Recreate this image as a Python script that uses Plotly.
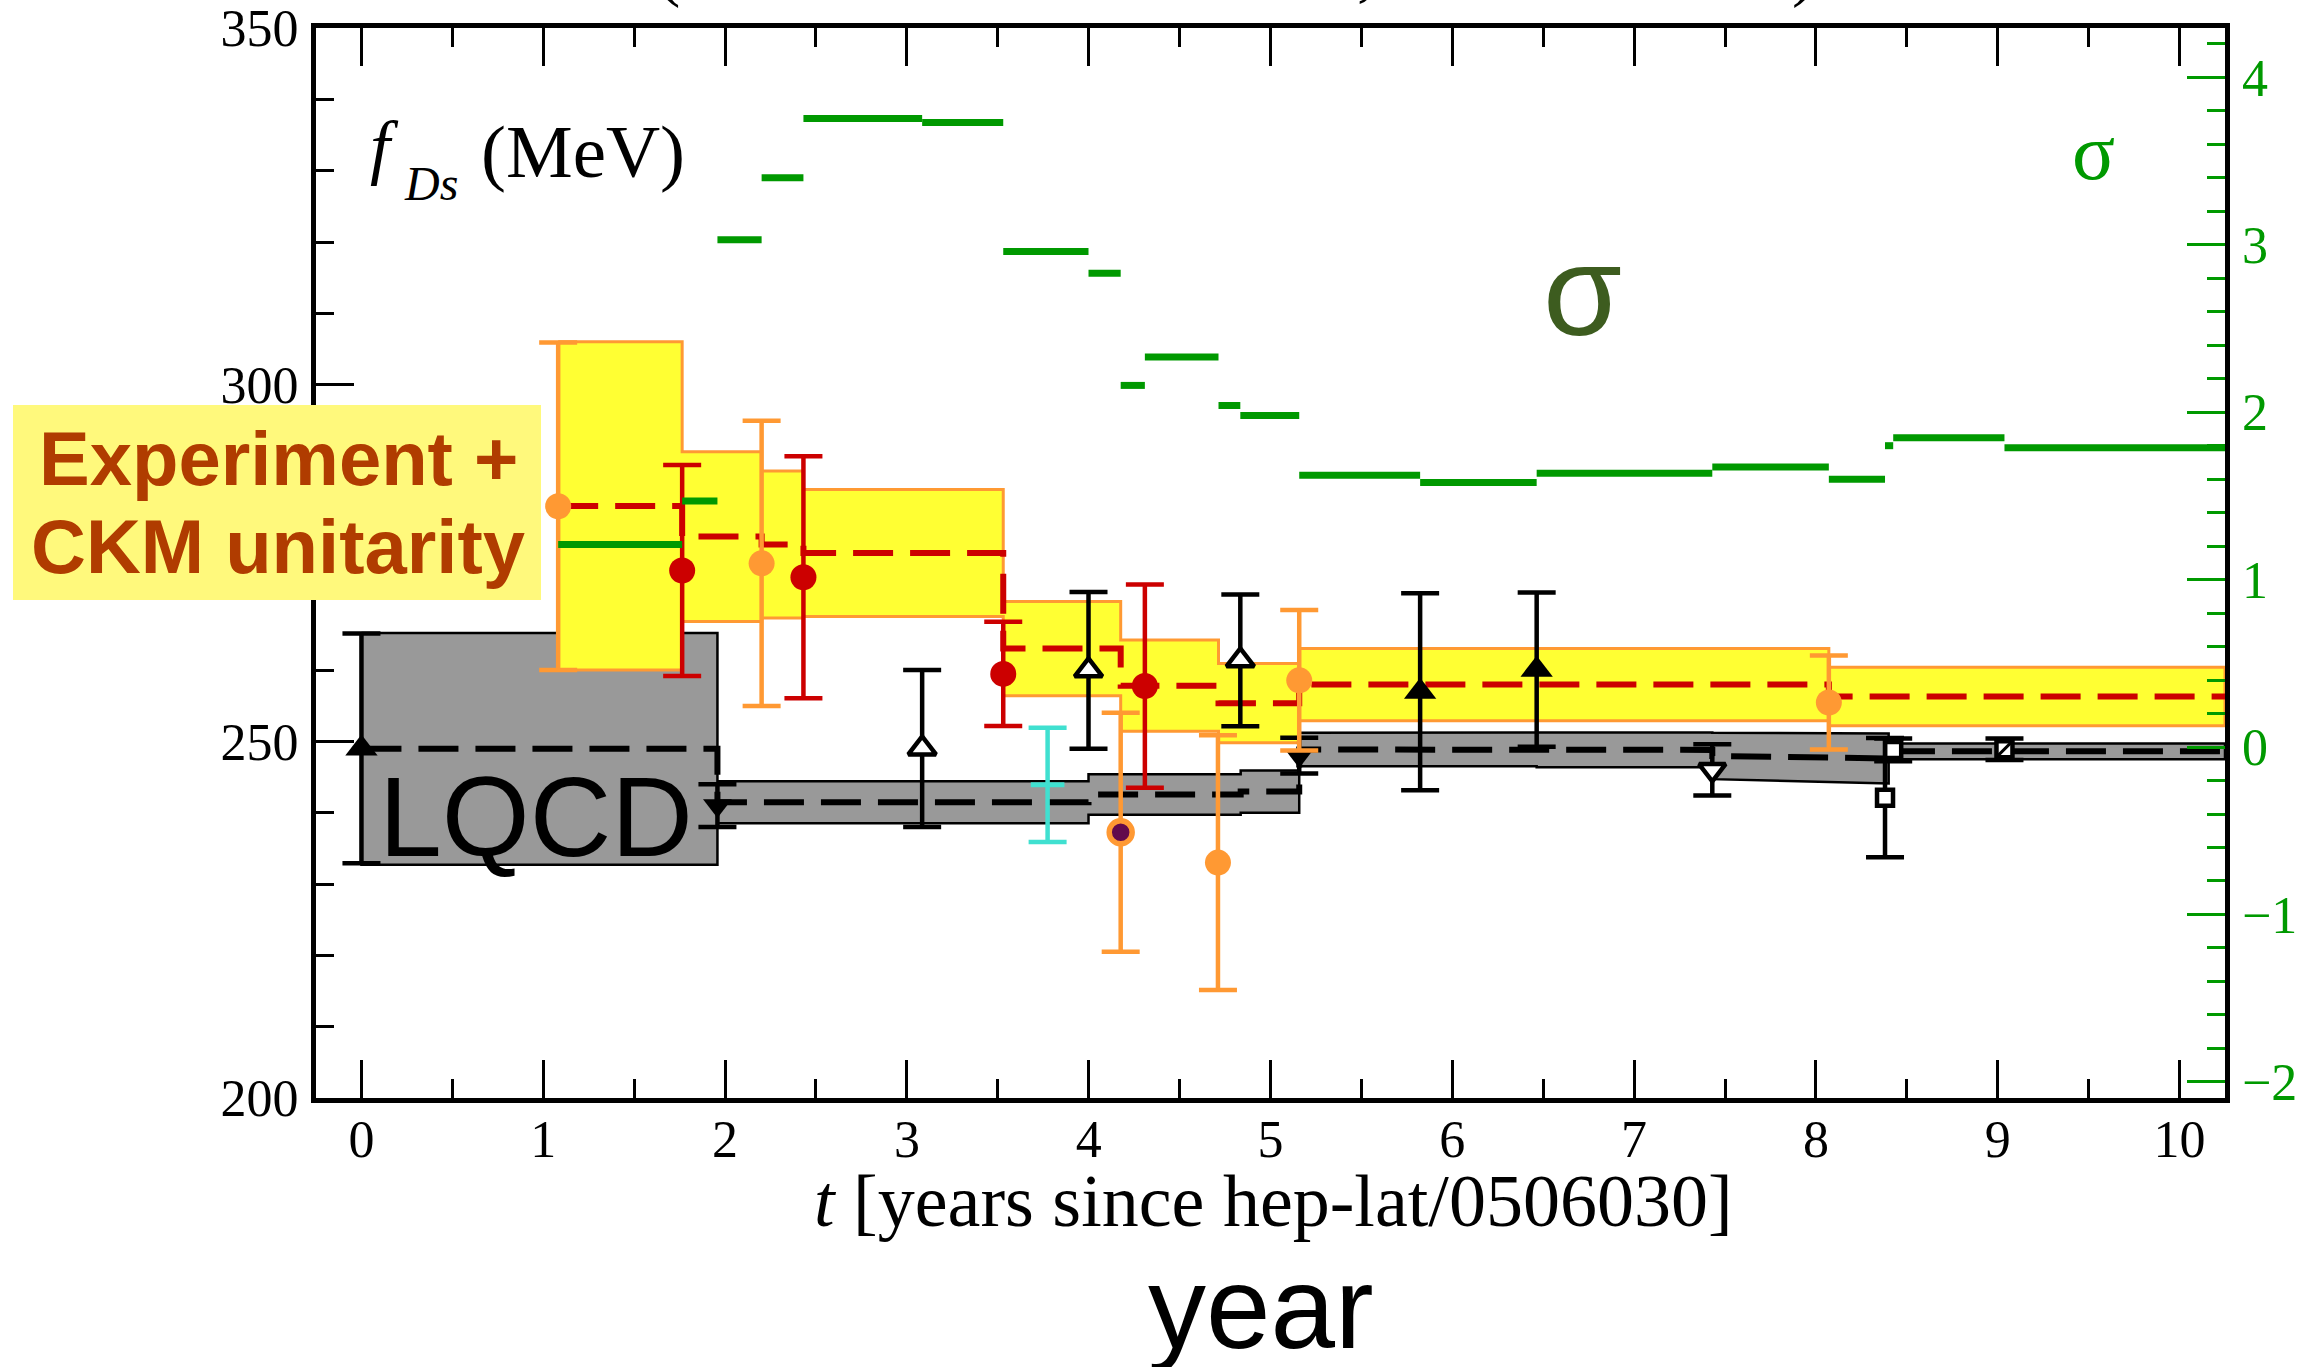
import plotly.graph_objects as go

# ------------------------------------------------------------------ data
# Experiment + CKM unitarity running average (one step per update)
exp_t_start = [1.082, 1.764, 2.201, 2.431, 3.530, 4.176, 4.714, 5.158, 8.071]
exp_t_end = [1.764, 2.201, 2.431, 3.530, 4.176, 4.714, 5.158, 8.071, 10.25]
exp_mean = [283.0, 278.7, 277.6, 276.4, 263.0, 257.8, 255.35, 257.95, 256.3]
exp_err = [23.0, 11.9, 10.3, 8.9, 6.6, 6.4, 5.55, 5.05, 4.1]

# Lattice QCD running average; a knot is repeated where the average jumps
lqcd_t = [0.0, 1.958, 1.958, 3.999, 3.999, 4.836, 4.836, 5.158,
          5.158, 6.464, 6.464, 7.43, 7.43, 8.40, 8.40, 10.25]
lqcd_mean = [248.95, 248.95, 241.45, 241.45, 242.55, 242.55, 242.95, 242.95,
             248.85, 248.85, 248.8, 248.8, 247.95, 247.6, 248.6, 248.6]
lqcd_err = [16.25, 16.25, 2.95, 2.95, 2.85, 2.85, 2.95, 2.95,
            2.35, 2.35, 2.45, 2.45, 3.25, 3.5, 1.1, 1.1]

# Tension between the two averages (standard deviations, right axis)
sig_t_start = [1.082, 1.764, 1.958, 2.201, 2.431, 3.084, 3.530, 3.999, 4.176, 4.309,
               4.714, 4.834, 5.158, 5.823, 6.464, 7.43, 8.071, 8.38, 8.425, 9.037]
sig_t_end = [1.764, 1.958, 2.201, 2.431, 3.084, 3.530, 3.999, 4.176, 4.309, 4.714,
             4.834, 5.158, 5.823, 6.464, 7.43, 8.071, 8.38, 8.425, 9.037, 10.25]
sig_value = [1.21, 1.47, 3.03, 3.40, 3.755, 3.73, 2.96, 2.83, 2.16, 2.33,
             2.04, 1.98, 1.624, 1.58, 1.635, 1.672, 1.60, 1.80, 1.848, 1.787]

# Lattice results
lat_up_t = [0.0, 5.823, 6.464]
lat_up_val = [249.0, 256.95, 260.05]
lat_up_err = [16.1, 13.8, 10.8]

lat_upopen_t = [3.084, 3.999, 4.834]
lat_upopen_val = [249.0, 259.95, 261.35]
lat_upopen_err = [11.0, 11.0, 9.25]

lat_down_t = [1.958, 5.158]
lat_down_val = [241.0, 248.0]
lat_down_err = [3.0, 2.5]

lat_downopen_t = [7.43]
lat_downopen_val = [246.0]
lat_downopen_err = [3.6]

lat_sq_t = [8.38, 8.425, 9.037]
lat_sq_val = [242.1, 248.8, 248.9]
lat_sq_err = [8.35, 1.6, 1.5]

# Experimental results
exp_red_t = [1.764, 2.431, 3.530, 4.309]
exp_red_val = [273.95, 273.0, 259.45, 257.75]
exp_red_err = [14.8, 16.95, 7.3, 14.25]

exp_orange_t = [1.082, 2.201, 4.711, 5.158, 8.071]
exp_orange_val = [282.95, 274.95, 233.0, 258.55, 255.45]
exp_orange_err = [22.95, 20.0, 17.85, 9.85, 6.6]

exp_purple_t = [4.176]
exp_purple_val = [237.25]
exp_purple_err = [16.75]

exp_cyan_t = [3.774]
exp_cyan_val = [243.9]
exp_cyan_err = [8.0]

# ------------------------------------------------------------------ styling
W, H = 2313, 1367
ML, MR, MT, MB = 316, 88, 28, 269
PW, PH = W - ML - MR, H - MT - MB

ORANGE = "#ff9933"
RED = "#cc0000"
GREEN = "#009900"
YELLOW = "#ffff33"
GRAY = "#999999"
SERIF = "Liberation Serif"
SANS = "Liberation Sans"

SIG_MEV0, SIG_MEV_PER = 249.2, 23.47   # sigma axis alignment with the MeV axis
Y_LO, Y_HI = 200.0, 350.0


def fx(px):
    return (px - ML) / PW


def fy(py):
    return (MT + PH - py) / PH


fig = go.Figure()

# Lattice band
lq_x = list(lqcd_t) + list(reversed(lqcd_t)) + [lqcd_t[0]]
lq_y = [m + e for m, e in zip(lqcd_mean, lqcd_err)] + \
       [m - e for m, e in zip(reversed(lqcd_mean), reversed(lqcd_err))] + \
       [lqcd_mean[0] + lqcd_err[0]]
fig.add_trace(go.Scatter(x=lq_x, y=lq_y, mode="lines", fill="toself",
                         fillcolor=GRAY, line=dict(color="black", width=2.5),
                         hoverinfo="skip"))

# Experiment band
ex_x, ex_hi, ex_lo = [], [], []
for a, b, m, e in zip(exp_t_start, exp_t_end, exp_mean, exp_err):
    ex_x += [a, b]
    ex_hi += [m + e, m + e]
    ex_lo += [m - e, m - e]
band_x = ex_x + ex_x[::-1] + [ex_x[0]]
band_y = ex_hi + ex_lo[::-1] + [ex_hi[0]]
fig.add_trace(go.Scatter(x=band_x, y=band_y, mode="lines", fill="toself",
                         fillcolor=YELLOW, line=dict(color=ORANGE, width=3),
                         hoverinfo="skip"))

# Central values of the averages
fig.add_trace(go.Scatter(x=lqcd_t, y=lqcd_mean, mode="lines",
                         line=dict(color="black", width=6, dash="40px,17px")))
ex_mid = []
for m in exp_mean:
    ex_mid += [m, m]
fig.add_trace(go.Scatter(x=ex_x, y=ex_mid, mode="lines",
                         line=dict(color=RED, width=6, dash="40px,17px")))


def err(vals, color):
    return dict(type="data", array=vals, visible=True, color=color,
                thickness=4.5, width=19)


# Lattice points
fig.add_trace(go.Scatter(x=lat_up_t, y=lat_up_val, mode="markers",
                         error_y=err(lat_up_err, "black"),
                         marker=dict(symbol="triangle-up", size=28, color="black")))
fig.add_trace(go.Scatter(x=lat_upopen_t, y=lat_upopen_val, mode="markers",
                         error_y=err(lat_upopen_err, "black"),
                         marker=dict(symbol="triangle-up", size=24, color="white",
                                     line=dict(color="black", width=4.5))))
fig.add_trace(go.Scatter(x=lat_down_t, y=lat_down_val, mode="markers",
                         error_y=err(lat_down_err, "black"),
                         marker=dict(symbol="triangle-down", size=25, color="black")))
fig.add_trace(go.Scatter(x=lat_downopen_t, y=lat_downopen_val, mode="markers",
                         error_y=err(lat_downopen_err, "black"),
                         marker=dict(symbol="triangle-down", size=23, color="white",
                                     line=dict(color="black", width=4.5))))
fig.add_trace(go.Scatter(x=lat_sq_t, y=lat_sq_val, mode="markers",
                         error_y=err(lat_sq_err, "black"),
                         marker=dict(symbol="square", size=16, color="white",
                                     line=dict(color="black", width=4.5))))
fig.add_trace(go.Scatter(x=lat_sq_t[2:], y=lat_sq_val[2:], mode="markers",
                         marker=dict(symbol="line-ne", size=14,
                                     line=dict(color="black", width=3))))

# Experimental points
fig.add_trace(go.Scatter(x=exp_cyan_t, y=exp_cyan_val, mode="markers",
                         error_y=err(exp_cyan_err, "#40e0d0"),
                         marker=dict(symbol="line-ew", size=24,
                                     line=dict(color="#40e0d0", width=5))))
fig.add_trace(go.Scatter(x=exp_red_t, y=exp_red_val, mode="markers",
                         error_y=err(exp_red_err, RED),
                         marker=dict(symbol="circle", size=26, color=RED)))
fig.add_trace(go.Scatter(x=exp_orange_t, y=exp_orange_val, mode="markers",
                         error_y=err(exp_orange_err, ORANGE),
                         marker=dict(symbol="circle", size=26, color=ORANGE)))
fig.add_trace(go.Scatter(x=exp_purple_t, y=exp_purple_val, mode="markers",
                         error_y=err(exp_purple_err, ORANGE),
                         marker=dict(symbol="circle", size=23, color="#620a4c",
                                     line=dict(color=ORANGE, width=5.5))))

# Tension steps on the right axis
gx, gy = [], []
for a, b, v in zip(sig_t_start, sig_t_end, sig_value):
    gx += [a, b, None]
    gy += [v, v, None]
fig.add_trace(go.Scatter(x=gx, y=gy, yaxis="y2", mode="lines",
                         line=dict(color=GREEN, width=7)))

tickfont = dict(family=SERIF, size=52, color="black")
fig.update_layout(
    width=W, height=H,
    margin=dict(l=ML, r=MR, t=MT, b=MB, pad=0),
    paper_bgcolor="white", plot_bgcolor="white",
    showlegend=False,
    xaxis=dict(range=[-0.25, 10.25], tickvals=list(range(11)),
               ticks="inside", ticklen=38, tickwidth=2.5, tickcolor="black",
               minor=dict(tick0=0, dtick=0.5, ticks="inside", ticklen=19,
                          tickwidth=2.5, tickcolor="black", showgrid=False),
               showline=True, linewidth=5, linecolor="black", mirror="ticks",
               showgrid=False, zeroline=False, tickfont=tickfont,
               ticklabelstandoff=-8, automargin=False),
    yaxis=dict(range=[Y_LO, Y_HI], tickvals=[200, 250, 300, 350],
               ticks="inside", ticklen=38, tickwidth=2.5, tickcolor="black",
               minor=dict(tick0=200, dtick=10, ticks="inside", ticklen=18,
                          tickwidth=2.5, tickcolor="black", showgrid=False),
               showline=True, linewidth=5, linecolor="black", mirror=True,
               showgrid=False, zeroline=False, tickfont=tickfont,
               ticklabelstandoff=2, automargin=False),
    yaxis2=dict(overlaying="y", side="right",
                range=[(Y_LO - SIG_MEV0) / SIG_MEV_PER, (Y_HI - SIG_MEV0) / SIG_MEV_PER],
                tickvals=[-2, -1, 0, 1, 2, 3, 4],
                ticks="inside", ticklen=38, tickwidth=2.5, tickcolor=GREEN,
                minor=dict(tick0=0, dtick=0.2, ticks="inside", ticklen=18,
                           tickwidth=2.5, tickcolor=GREEN, showgrid=False),
                showline=False, showgrid=False, zeroline=False,
                tickfont=dict(family=SERIF, size=52, color=GREEN),
                ticklabelstandoff=16, automargin=False),
)

# Label box on the left
fig.add_shape(type="rect", xref="paper", yref="paper",
              x0=fx(13), x1=fx(541), y0=fy(600), y1=fy(405),
              fillcolor="#fff97c", line=dict(width=0), layer="above")

BROWN = "#b03c00"


def mid(baseline, size, serif=True):
    """Vertical centre of a text line whose baseline sits at pixel row `baseline`."""
    return fy(baseline - (0.3375 if serif else 0.3465) * size)


annotations = [
    dict(text="<b>Experiment +</b>", x=fx(278), y=mid(485, 76, False),
         font=dict(family=SANS, size=76, color=BROWN)),
    dict(text="<b>CKM unitarity</b>", x=fx(278), y=mid(573, 76, False),
         font=dict(family=SANS, size=76, color=BROWN)),
    dict(text="LQCD", x=fx(536), y=mid(856, 113, False),
         font=dict(family=SANS, size=113, color="black")),
    dict(text="σ", x=fx(1582), y=mid(335, 128, False),
         font=dict(family=SANS, size=128, color="#3d5c1f")),
    dict(text="σ", x=fx(2093), y=mid(179, 80),
         font=dict(family=SERIF, size=80, color=GREEN)),
    # f_Ds (MeV) axis label, set piece by piece
    dict(text="<i>f</i>", x=fx(368), y=mid(171, 72), xanchor="left",
         font=dict(family=SERIF, size=72, color="black")),
    dict(text="<i>Ds</i>", x=fx(402), y=mid(200, 48), xanchor="left",
         font=dict(family=SERIF, size=48, color="black")),
    dict(text="(MeV)", x=fx(479), y=mid(177, 75), xanchor="left",
         font=dict(family=SERIF, size=75, color="black")),
    dict(text="<i>t</i> [years since hep-lat/0506030]", x=fx(1273), y=mid(1226, 74),
         font=dict(family=SERIF, size=74, color="black")),
    dict(text="year", x=fx(1261), y=mid(1348, 116, False),
         font=dict(family=SANS, size=116, color="black")),
    dict(text="(", x=fx(668), y=fy(-31),
         font=dict(family=SERIF, size=70, color="black")),
    dict(text=",", x=fx(1366), y=fy(-31),
         font=dict(family=SERIF, size=70, color="black")),
    dict(text=")", x=fx(1803), y=fy(-31),
         font=dict(family=SERIF, size=70, color="black")),
]
for a in annotations:
    a.setdefault("xanchor", "center")
    a.setdefault("yanchor", "middle")
    fig.add_annotation(xref="paper", yref="paper", showarrow=False, **a)

fig.write_html("out.html")
